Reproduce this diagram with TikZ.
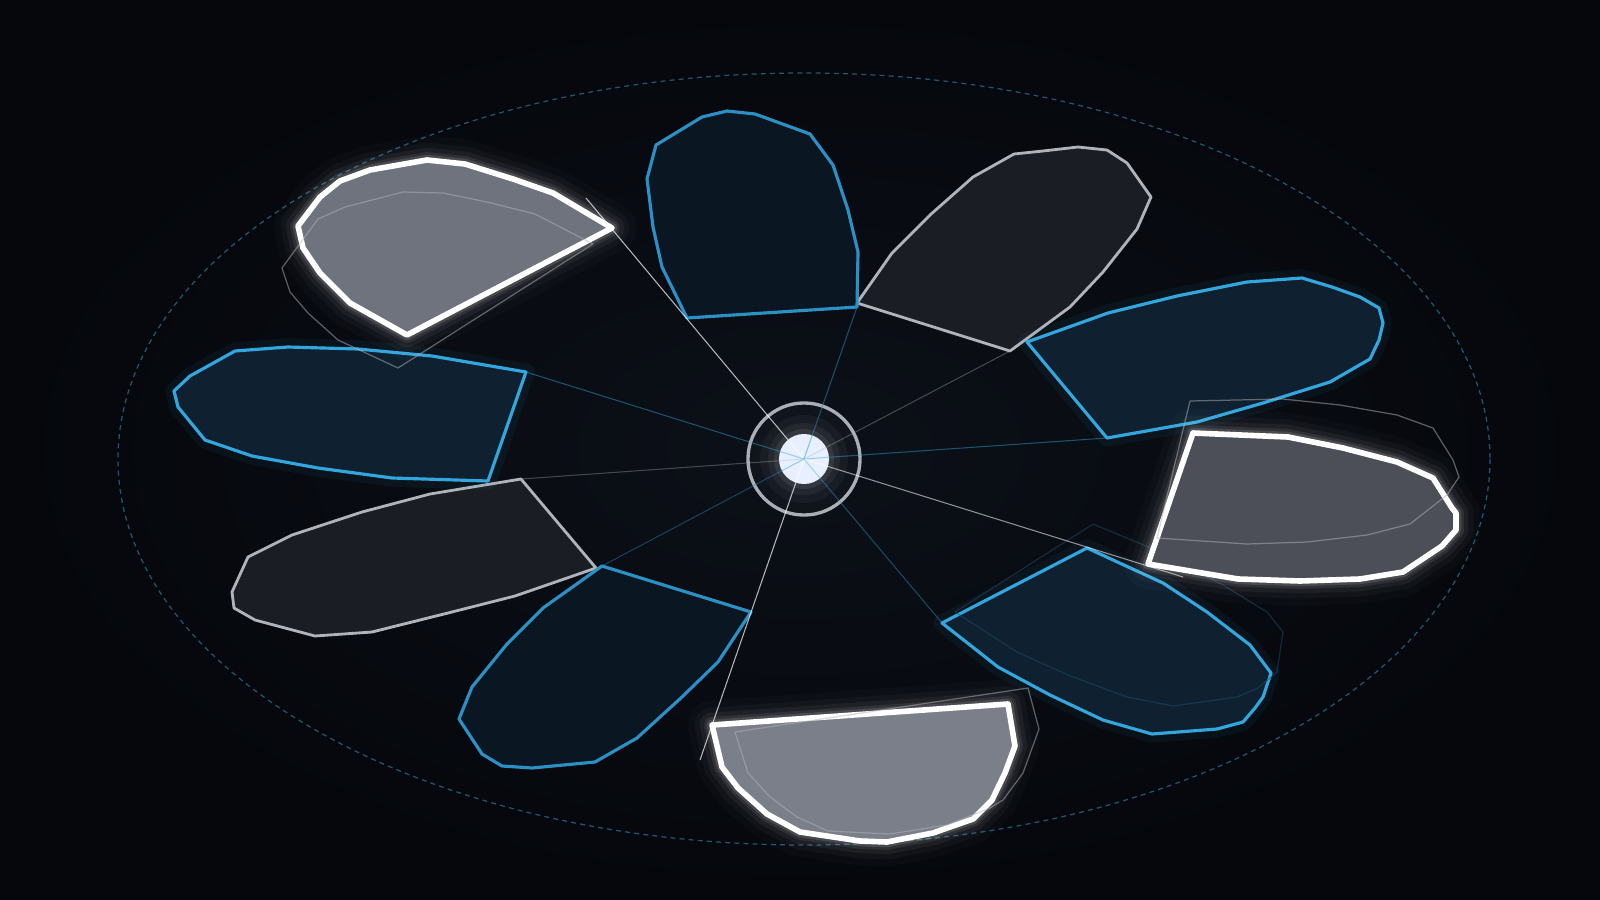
\documentclass[tikz,border=0pt]{standalone}
\usepackage{tikz}

\definecolor{bgin}{HTML}{0C1018}
\definecolor{bgout}{HTML}{05070C}
\definecolor{rim}{HTML}{1F5877}
\definecolor{bluefill}{HTML}{0F2130}
\definecolor{bluedeep}{HTML}{0A1621}
\definecolor{blueline}{HTML}{33A6DD}
\definecolor{bluedim}{HTML}{2C90C4}
\definecolor{greyfill}{HTML}{1B1D24}
\definecolor{greyline}{HTML}{B0B3B9}
\definecolor{ringline}{HTML}{AAAEB6}
\definecolor{corefill}{HTML}{E8F0FF}
\definecolor{hitl}{HTML}{6E737D}
\definecolor{hirl}{HTML}{4C4F58}
\definecolor{hib}{HTML}{7B7F89}

\begin{document}
\begin{tikzpicture}[x=0.01cm, y=-0.01cm, line join=round,
    bluepetal/.style={fill=bluefill, draw=blueline, line width=0.9pt,
        preaction={draw=blueline, draw opacity=0.06, line width=5pt}},
    deeppetal/.style={fill=bluedeep, draw=bluedim, line width=0.9pt},
    greypetal/.style={fill=greyfill, draw=greyline, line width=0.8pt},
    hipetal/.style={fill=#1, draw=white, line width=1.6pt,
        preaction={draw=white, draw opacity=0.02, line width=14pt},
        preaction={draw=white, draw opacity=0.03, line width=10pt},
        preaction={draw=white, draw opacity=0.05, line width=7pt},
        preaction={draw=white, draw opacity=0.08, line width=4.5pt},
        preaction={draw=white, draw opacity=0.12, line width=3pt}},
    ghost/.style={draw=#1, line width=0.35pt, draw opacity=0.5},
    spoke/.style={draw=#1, line width=0.3pt}]

    \useasboundingbox (0,0) rectangle (1600,900);
    \shade[inner color=bgin, outer color=bgout] (0,0) rectangle (1600,900);

    \draw[rim, line width=0.35pt, dash pattern=on 1.4pt off 1.2pt] (804,459) ellipse [x radius=686, y radius=386];

    \coordinate (tl) at (586,198);
    \coordinate (t) at (857,307);
    \coordinate (tr) at (1010,351);
    \coordinate (ru) at (1107,438);
    \coordinate (rl) at (1183,577);
    \coordinate (br) at (942,623);
    \coordinate (b) at (700,760);
    \coordinate (bl) at (602,566);
    \coordinate (ll) at (521,479);
    \coordinate (lu) at (526,372);

    \draw[greypetal] (857,303) -- (892,253) -- (930,215) -- (973,177) -- (1014,154) -- (1043,151) -- (1078,147) -- (1107,150) -- (1127,163) -- (1151,197) -- (1137,229) -- (1103,272) -- (1070,307) -- (1010,351) -- cycle;
    \draw[greypetal] (521,479) -- (430,494) -- (362,512) -- (292,535) -- (248,557) -- (232,592) -- (234,608) -- (255,620) -- (315,636) -- (372,632) -- (448,613) -- (515,596) -- (596,568) -- cycle;

    \draw[deeppetal] (687,318) -- (662,267) -- (653,227) -- (647,179) -- (656,145) -- (702,117) -- (727,111) -- (755,114) -- (810,134) -- (833,165) -- (848,210) -- (858,252) -- (857,307) -- cycle;
    \draw[deeppetal] (602,566) -- (751,612) -- (718,662) -- (682,697) -- (637,738) -- (595,762) -- (532,768) -- (502,766) -- (482,754) -- (459,719) -- (472,687) -- (507,644) -- (543,608) -- cycle;
    \draw[bluepetal] (1027,342) -- (1108,313) -- (1177,296) -- (1247,282) -- (1302,278) -- (1332,287) -- (1360,297) -- (1379,308) -- (1383,323) -- (1379,340) -- (1370,359) -- (1330,382) -- (1263,403) -- (1197,422) -- (1107,438) -- cycle;
    \draw[bluepetal] (526,372) -- (432,356) -- (358,349) -- (288,347) -- (235,351) -- (190,376) -- (174,391) -- (178,407) -- (205,440) -- (252,456) -- (318,468) -- (392,478) -- (488,481) -- cycle;
    \draw[bluepetal] (942,623) -- (1087,548) -- (1163,583) -- (1207,612) -- (1250,645) -- (1271,673) -- (1263,697) -- (1255,708) -- (1243,722) -- (1217,729) -- (1152,734) -- (1103,720) -- (1050,695) -- (998,667) -- cycle;
    \draw[ghost=blueline!40!bgin] (955,612) -- (1093,524) -- (1163,553) -- (1223,585) -- (1267,612) -- (1283,632) -- (1277,672) -- (1258,688) -- (1237,697) -- (1173,706) -- (1127,697) -- (1068,675) -- (1017,652) -- cycle;

    \draw[hipetal=hitl] (612,228) -- (553,193) -- (513,179) -- (465,164) -- (427,160) -- (370,170) -- (340,181) -- (320,197) -- (298,226) -- (303,248) -- (320,273) -- (350,303) -- (407,335) -- cycle;
    \draw[ghost=greyline] (593,244) -- (535,214) -- (487,202) -- (443,193) -- (403,192) -- (345,207) -- (318,219) -- (282,268) -- (290,292) -- (308,313) -- (338,340) -- (398,368) -- cycle;

    \draw[hipetal=hirl] (1193,433) -- (1288,437) -- (1343,448) -- (1397,462) -- (1433,478) -- (1452,508) -- (1456,513) -- (1456,530) -- (1442,546) -- (1403,572) -- (1360,579) -- (1300,581) -- (1238,579) -- (1148,564) -- cycle;
    \draw[ghost=greyline] (1190,401) -- (1283,399) -- (1340,405) -- (1397,415) -- (1433,428) -- (1453,460) -- (1459,477) -- (1447,495) -- (1410,524) -- (1367,535) -- (1307,542) -- (1247,544) -- (1157,538) -- cycle;

    \draw[hipetal=hib] (712,725) -- (722,767) -- (738,788) -- (767,814) -- (800,832) -- (860,841) -- (887,842) -- (933,833) -- (973,819) -- (992,800) -- (1005,773) -- (1015,746) -- (1008,704) -- cycle;
    \draw[ghost=greyline] (735,732) -- (748,773) -- (770,797) -- (797,817) -- (828,831) -- (890,834) -- (947,825) -- (990,808) -- (1003,800) -- (1023,773) -- (1039,729) -- (1028,688) -- cycle;

    \fill[white, opacity=0.025] (804,459) circle [radius=54];
    \fill[white, opacity=0.035] (804,459) circle [radius=44];
    \fill[white, opacity=0.05] (804,459) circle [radius=36];
    \fill[white, opacity=0.08] (804,459) circle [radius=30];
    \node[circle, draw=ringline, line width=0.95pt, minimum size=1.12cm, inner sep=0pt] (hub) at (804,459) {};
    \node[circle, fill=corefill, minimum size=0.5cm, inner sep=0pt] (core) at (hub) {};

    \draw[spoke=white, draw opacity=0.7] (hub.center) -- (tl);
    \draw[spoke=bluedim, draw opacity=0.5] (hub.center) -- (t);
    \draw[spoke=greyline, draw opacity=0.35] (hub.center) -- (tr);
    \draw[spoke=blueline, draw opacity=0.45] (hub.center) -- (ru);
    \draw[spoke=white, draw opacity=0.55] (hub.center) -- (rl);
    \draw[spoke=blueline, draw opacity=0.4] (hub.center) -- (br);
    \draw[spoke=white, draw opacity=0.7] (hub.center) -- (b);
    \draw[spoke=bluedim, draw opacity=0.4] (hub.center) -- (bl);
    \draw[spoke=greyline, draw opacity=0.35] (hub.center) -- (ll);
    \draw[spoke=blueline, draw opacity=0.45] (hub.center) -- (lu);

\end{tikzpicture}
\end{document}
